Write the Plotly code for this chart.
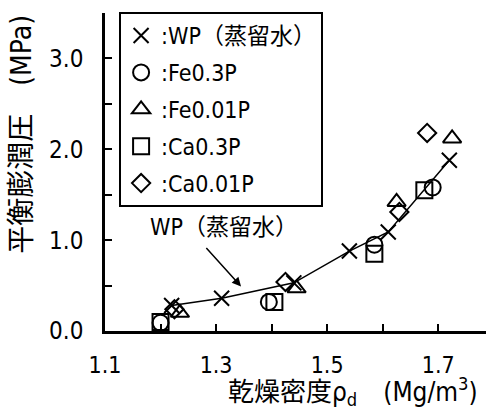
import plotly.graph_objects as go

# Equilibrium swelling pressure vs. dry density
wp_x = [1.22, 1.31, 1.44, 1.54, 1.61, 1.72]
wp_y = [0.28, 0.36, 0.53, 0.88, 1.09, 1.88]

fe03_x = [1.20, 1.395, 1.585, 1.69]
fe03_y = [0.09, 0.32, 0.95, 1.58]

fe001_x = [1.235, 1.445, 1.625, 1.725]
fe001_y = [0.20, 0.47, 1.42, 2.12]

ca03_x = [1.20, 1.405, 1.585, 1.675]
ca03_y = [0.10, 0.32, 0.85, 1.55]

ca001_x = [1.225, 1.425, 1.63, 1.68]
ca001_y = [0.24, 0.54, 1.31, 2.18]

names = [":WP（蒸留水）", ":Fe0.3P", ":Fe0.01P", ":Ca0.3P", ":Ca0.01P"]

x_ticks = [1.1, 1.3, 1.5, 1.7]
x_tick_text = ["1.1", "1.3", "1.5", "1.7"]
y_ticks = [0.0, 1.0, 2.0, 3.0]
y_tick_text = ["0.0", "1.0", "2.0", "3.0"]

LAT = "DejaVu Sans Condensed, Noto Sans CJK JP"

fig = go.Figure()

mk = dict(color="black", line=dict(color="black", width=2))

# WP connecting line (kept out of the legend so only the × shows there)
fig.add_trace(go.Scatter(
    x=wp_x, y=wp_y, mode="lines", showlegend=False,
    line=dict(color="black", width=1.5), hoverinfo="skip",
))
fig.add_trace(go.Scatter(
    x=wp_x, y=wp_y, name=names[0], mode="markers",
    marker=dict(symbol="x-thin-open", size=15, **mk),
    legendgroup="a",
))
series = [
    (fe03_x, fe03_y, names[1], "circle-open", 16),
    (fe001_x, fe001_y, names[2], "triangle-up-open", 16),
    (ca03_x, ca03_y, names[3], "square-open", 16),
    (ca001_x, ca001_y, names[4], "diamond-open", 14),
]
for i, (xs, ys, nm, sym, sz) in enumerate(series):
    fig.add_trace(go.Scatter(
        x=xs, y=ys, name=nm, mode="markers",
        marker=dict(symbol=sym, size=sz, **mk),
        legendgroup="g%d" % i,
    ))

fig.update_layout(
    width=486, height=412,
    margin=dict(l=105, r=0, t=13, b=81),
    paper_bgcolor="white", plot_bgcolor="white",
    font=dict(family=LAT, size=22, color="black"),
    showlegend=True,
    legend=dict(
        x=0.037, y=1.003, xanchor="left", yanchor="top",
        bordercolor="black", borderwidth=2, bgcolor="white",
        font=dict(family=LAT, size=23),
        tracegroupgap=4, itemwidth=30,
    ),
    xaxis=dict(
        range=[1.1, 1.786], showgrid=False, zeroline=False,
        showline=True, linecolor="black", linewidth=2.5,
        tickmode="array", tickvals=x_ticks, ticktext=x_tick_text,
        ticks="inside", ticklen=7, tickwidth=1.5, tickcolor="black",
        minor=dict(tickmode="linear", tick0=1.1, dtick=0.1, ticks="inside",
                   ticklen=7, tickwidth=1.5, tickcolor="black"),
        tickfont=dict(family=LAT, size=23, color="black"), ticklabelstandoff=12,
    ),
    yaxis=dict(
        range=[0, 3.5], showgrid=False, zeroline=False,
        showline=True, linecolor="black", linewidth=2.5,
        tickmode="array", tickvals=y_ticks, ticktext=y_tick_text,
        ticks="inside", ticklen=7, tickwidth=1.5, tickcolor="black",
        minor=dict(tickmode="linear", tick0=0, dtick=0.5, ticks="inside",
                   ticklen=7, tickwidth=1.5, tickcolor="black"),
        tickfont=dict(family=LAT, size=24, color="black"), ticklabelstandoff=14,
    ),
)

# series label with arrow pointing at the WP curve
fig.add_annotation(x=1.314, y=1.15, xref="x", yref="y", text="WP（蒸留水）",
                   showarrow=False, font=dict(family=LAT, size=23))
fig.add_annotation(x=1.345, y=0.49, ax=1.28, ay=0.93, xref="x", yref="y",
                   axref="x", ayref="y", text="", showarrow=True,
                   arrowhead=2, arrowsize=1.2, arrowwidth=1.5, arrowcolor="black")

# axis titles
fig.add_annotation(x=-0.218, y=0.62, xref="paper", yref="paper",
                   xanchor="center", yanchor="middle",
                   text="平衡膨潤圧　(MPa)", textangle=-90, showarrow=False,
                   font=dict(family=LAT, size=28))
fig.add_annotation(x=0.65, y=-0.19, xref="paper", yref="paper",
                   xanchor="center", yanchor="middle",
                   text="乾燥密度ρ<sub>d</sub>　(Mg/m<sup>3</sup>)", showarrow=False,
                   font=dict(family=LAT, size=26))

fig.write_html("out.html")
